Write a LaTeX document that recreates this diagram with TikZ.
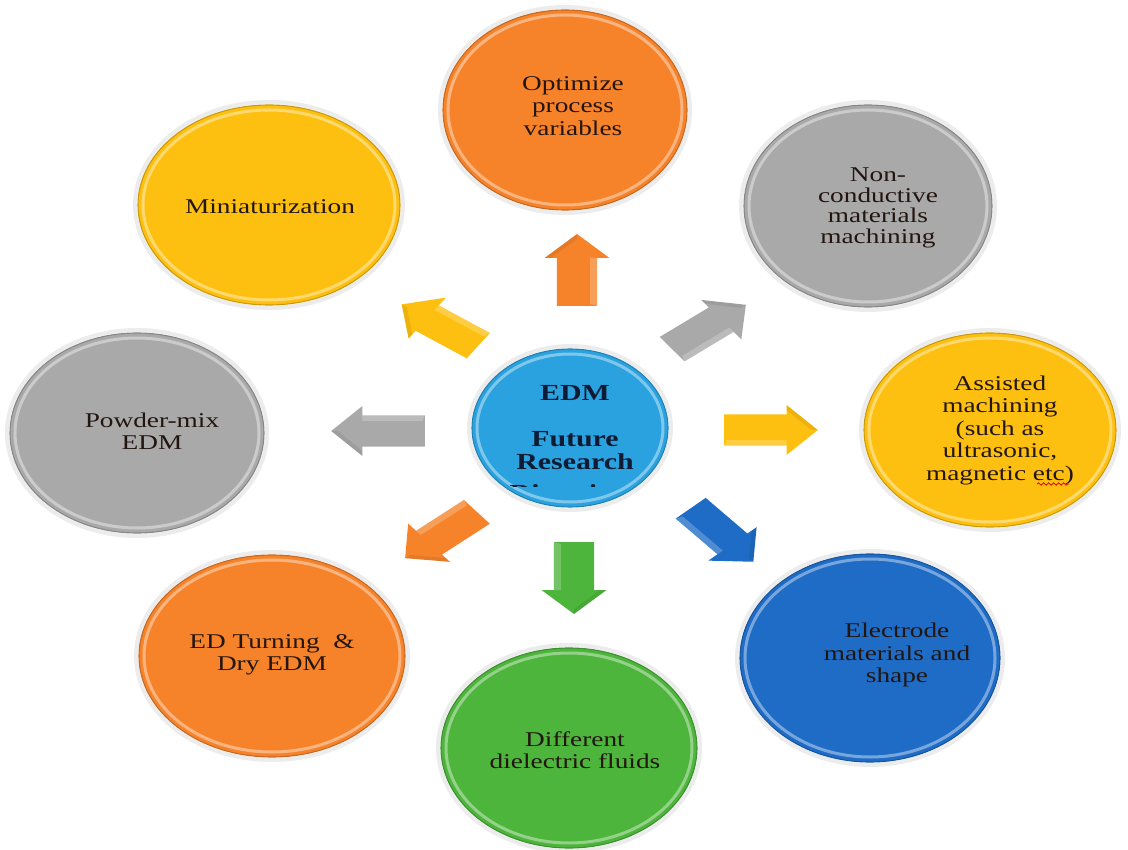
\documentclass[tikz,border=0pt]{standalone}
\usepackage{fontspec}
\setmainfont{Liberation Serif}[FakeStretch=1.3]
\usetikzlibrary{shapes.geometric,decorations.pathmorphing}

\definecolor{cOrange}{HTML}{F6832A}
\definecolor{cGold}{HTML}{FDC010}
\definecolor{cGray}{HTML}{A9A9A9}
\definecolor{cGreen}{HTML}{4DB43C}
\definecolor{cBlue}{HTML}{1E6CC6}
\definecolor{cSky}{HTML}{2AA2DF}
\definecolor{cInk}{HTML}{231510}
\definecolor{cNavy}{HTML}{0E1B33}

\tikzset{
  bubble/.style={ellipse, inner sep=0pt, line width=1.1pt},
  lbl/.style={font=\fontsize{21}{22.5}\selectfont, text=cInk, align=center, inner sep=0pt},
  hubtext/.style={font=\fontsize{23}{23}\selectfont\bfseries, text=cNavy, align=center, inner sep=0pt},
  blockarrow/.pic={
    \fill[pic actions] (-36,-15.5) -- (12,-15.5) -- (12,-25) -- (36,0)
      -- (12,25) -- (12,15.5) -- (-36,15.5) -- cycle;
    \fill[white, opacity=.22] (-36,15.5) -- (12,15.5) -- (12,10) -- (-34,10) -- cycle;
    \fill[black, opacity=.07] (12,-25) -- (36,0) -- (31,0) -- (12,-20) -- cycle;
  }
}

% glossy ellipse: name, x, y, x radius, y radius, colour
\newcommand\glossball[6]{%
  \draw[black!12, line width=4pt, opacity=.6] (#2,#3) ellipse [x radius=#4+3, y radius=#5+3];
  \node[bubble, fill=#6, draw=#6!80!black, minimum width=2*#4pt, minimum height=2*#5pt] (#1) at (#2,#3) {};
  \draw[white, opacity=.4, line width=3pt] (#1.center) ellipse [x radius=#4-5, y radius=#5-5];
}

\begin{document}
\begin{tikzpicture}[x=1pt, y=-1pt]
\useasboundingbox (0,0) rectangle (1128,850);

% outer topics
\glossball{opt}{565}{110}{122}{100}{cOrange}
\glossball{mini}{269}{205}{131}{100}{cGold}
\glossball{nonc}{868}{206}{124}{101}{cGray}
\glossball{powder}{137}{433}{127}{100}{cGray}
\glossball{assist}{990}{430}{126}{97}{cGold}
\glossball{turn}{272}{656}{133}{101}{cOrange}
\glossball{fluid}{569}{748}{128}{100}{cGreen}
\glossball{elec}{870}{658}{130}{104}{cBlue}
% hub
\glossball{hub}{570}{428}{98}{79}{cSky}

% labels
\node[lbl] (optT) at (573,106) {Optimize\\process\\variables};
\node[lbl, font=\fontsize{21}{20.5}\selectfont] (noncT) at (878,208) {Non-\\conductive\\materials\\machining};
\node[lbl] (miniT) at (270,207) {Miniaturization};
\node[lbl] (powderT) at (152,431) {Powder-mix\\EDM};
\node[lbl] (assistT) at (1000,430) {Assisted\\machining\\(such as\\ultrasonic,\\magnetic etc)};
\node[lbl] (turnT) at (272,655) {ED Turning\ \ \&\\Dry EDM};
\node[lbl] (fluidT) at (575,750) {Different\\dielectric fluids};
\node[lbl] (elecT) at (897,655) {Electrode\\materials and\\shape};
\node[hubtext] (hubT) at (575,428) {EDM\\[23pt]Future\\Research};
\begin{scope}
  \clip (480,480) rectangle (660,486);
  \node[hubtext, anchor=base] (hubTail) at (575,500) {Directions};
\end{scope}

% spelling mark under "etc"
\coordinate (sqA) at (1037,484);
\coordinate (sqB) at (1069,484);
\draw[red!85!black, line width=.8pt, decorate,
      decoration={snake, amplitude=1.2pt, segment length=5pt}] (sqA) -- (sqB);

% block arrows radiating from the hub
\pic[fill=cOrange, xscale=1.3, rotate=90] at (577,270) {blockarrow};
\pic[fill=cGreen, xscale=1.3, rotate=-90] at (574,578) {blockarrow};
\pic[fill=cGray, xscale=1.3, rotate=180] at (378,431) {blockarrow};
\pic[fill=cGold, xscale=1.3, rotate=0] at (771,430) {blockarrow};
\pic[fill=cGold, xscale=1.3, rotate=145] at (440,325) {blockarrow};
\pic[fill=cGray, xscale=1.3, rotate=38] at (709,327) {blockarrow};
\pic[fill=cOrange, xscale=1.3, rotate=220] at (441,535) {blockarrow};
\pic[fill=cBlue, xscale=1.3, rotate=-48] at (722,535) {blockarrow};
\end{tikzpicture}
\end{document}
